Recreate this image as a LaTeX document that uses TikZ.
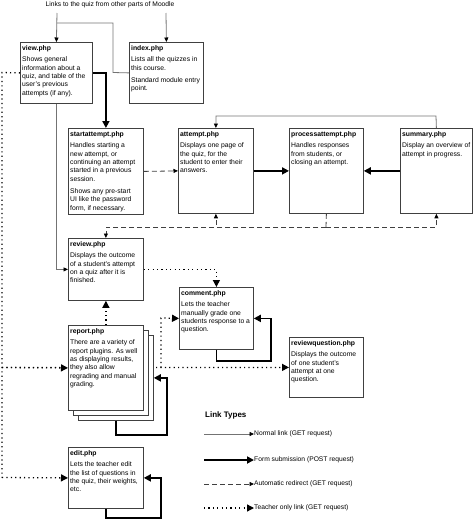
\documentclass[tikz,border=0pt]{standalone}
\usepackage{fontspec}
\setmainfont{Liberation Sans}
\usetikzlibrary{arrows.meta}
\pgfdeclarelayer{background}
\pgfsetlayers{background,main}
\begin{document}
\begin{tikzpicture}[x=1pt,y=-1pt,
 box/.style={draw=black!75,line width=0.8pt,fill=white,rectangle,anchor=north west,inner sep=0},
 txt/.style={anchor=north west,align=left,inner sep=0,font=\fontsize{6.8}{8.3}\selectfont},
 lgd/.style={anchor=west,inner sep=0,font=\fontsize{6.7}{8}\selectfont},
 normalline/.style={draw=black!55,line width=0.8pt},
 normal/.style={normalline,-{Triangle[length=4.5pt,width=4pt,color=black]}},
 post/.style={line width=1.8pt,-{Triangle[length=7pt,width=7pt]}},
 redirectline/.style={draw=black!75,line width=0.8pt,dash pattern=on 5pt off 3pt},
 redirect/.style={redirectline,-{Triangle[length=4.5pt,width=4pt,color=black]}},
 teacherline/.style={line width=1.3pt,dash pattern=on 1.2pt off 3.2pt},
 teacher/.style={teacherline,-{Triangle[length=7pt,width=7pt]}},
]
\useasboundingbox (0,0) rectangle (474,522);

% title
\node[font=\fontsize{6.7}{8}\selectfont,inner sep=0] (title) at (110,5) {Links to the quiz from other parts of Moodle};

% boxes
\node[box,minimum width=72pt,minimum height=61pt] (view) at (20,42) {};
\node[txt] (viewt) at ([shift={(2,3)}]view.north west) {\textbf{view.php}\\[3.5pt]Shows general\\information about a\\quiz, and table of the\\user's previous\\attempts (if any).};

\node[box,minimum width=74pt,minimum height=61pt] (index) at (129,42) {};
\node[txt] (indext) at ([shift={(2,3)}]index.north west) {\textbf{index.php}\\[3.5pt]Lists all the quizzes in\\this course.\\[4pt]Standard module entry\\point.};

\node[box,minimum width=75pt,minimum height=86pt] (start) at (68,128) {};
\node[txt] (startt) at ([shift={(2,3)}]start.north west) {\textbf{startattempt.php}\\[3.5pt]Handles starting a\\new attempt, or\\continuing an attempt\\started in a previous\\session.\\[4pt]Shows any pre-start\\UI like the password\\form, if necessary.};

\node[box,minimum width=75pt,minimum height=85pt] (attempt) at (178,128) {};
\node[txt] (attemptt) at ([shift={(2,3)}]attempt.north west) {\textbf{attempt.php}\\[3.5pt]Displays one page of\\the quiz, for the\\student to enter their\\answers.};

\node[box,minimum width=74pt,minimum height=85pt] (process) at (289,128) {};
\node[txt] (processt) at ([shift={(2,3)}]process.north west) {\textbf{processattempt.php}\\[3.5pt]Handles responses\\from students, or\\closing an attempt.};

\node[box,minimum width=72pt,minimum height=85pt] (summary) at (400,128) {};
\node[txt] (summaryt) at ([shift={(2,3)}]summary.north west) {\textbf{summary.php}\\[3.5pt]Display an overview of\\attempt in progress.};

\node[box,minimum width=75pt,minimum height=62pt] (review) at (68,238) {};
\node[txt] (reviewt) at ([shift={(2,3)}]review.north west) {\textbf{review.php}\\[3.5pt]Displays the outcome\\of a student's attempt\\on a quiz after it is\\finished.};

\node[box,minimum width=74pt,minimum height=62pt] (comment) at (179,287) {};
\node[txt] (commentt) at ([shift={(2,3)}]comment.north west) {\textbf{comment.php}\\[3.5pt]Lets the teacher\\manually grade one\\students response to a\\question.};

\node[box,minimum width=74pt,minimum height=60pt] (rq) at (289,337) {};
\node[txt] (rqt) at ([shift={(2,3)}]rq.north west) {\textbf{reviewquestion.php}\\[3.5pt]Displays the outcome\\of one student's\\attempt at one\\question.};

\node[box,minimum width=75pt,minimum height=85pt] (report3) at (78,335) {};
\node[box,minimum width=75pt,minimum height=85pt] (report2) at (73,330) {};
\node[box,minimum width=75pt,minimum height=85pt] (report) at (68,325) {};
\node[txt] (reportt) at ([shift={(2,3)}]report.north west) {\textbf{report.php}\\[3.5pt]There are a variety of\\report plugins. As well\\as displaying results,\\they also allow\\regrading and manual\\grading.};

\node[box,minimum width=75pt,minimum height=61pt] (edit) at (68,447) {};
\node[txt] (editt) at ([shift={(2,3)}]edit.north west) {\textbf{edit.php}\\[3.5pt]Lets the teacher edit\\the list of questions in\\the quiz, their weights,\\etc.};

% title links
\coordinate (ta) at (57,13);
\coordinate (tb) at (166,13);
\draw[normal] (ta) -- (view.north);
\draw[normal] (tb) -- (index.north);
\coordinate (ij1) at (113,72.5);
\coordinate (ij2) at (113,23);
\coordinate (ij3) at (57,23);
\draw[normalline] (index.west) -- (ij1) -- (ij2) -- (ij3);

% view -> startattempt (post)
\draw[post] (view.east) -| (start.north);
% view -> review
\draw[normal] (view.south) |- (review.west);
% start -> attempt
\draw[redirect] (start.east) -- (attempt.west);
% attempt -> process, summary -> process
\draw[post] (attempt.east) -- (process.west);
\draw[post] (summary.west) -- (process.east);
% summary -> attempt
\coordinate (sa) at (436,116);
\draw[normal] (summary.north) -- (sa) -| (attempt.north);
% process redirects
\coordinate (dj) at (326,227);
\draw[redirectline] (process.south) -- (dj);
\draw[redirect] (dj) -| (review.north);
\draw[redirect] (dj) -| (attempt.south);
\draw[redirect] (dj) -| (summary.south);

% review -> comment
\draw[teacher] (review.east) -| (comment.north);
% comment self loop
\coordinate (cl) at (271,361);
\draw[post] (comment.south) |- (cl) |- (comment.east);
% report -> review
\draw[teacher] (report.north) -- (review.south);
% report self loop
\coordinate (rl) at (167,435);
\draw[post] (report3.south) |- (rl) |- (report3.east);
% edit self loop
\coordinate (el) at (161,518);
\draw[post] (edit.south) |- (el) |- (edit.east);

% teacher-only links from view
\coordinate (d1) at (2,72.5);
\coordinate (d2) at (2,367.5);
\coordinate (d3) at (2,477.5);
\coordinate (d4) at (161,367.5);
\coordinate (d5) at (161,318);
\draw[teacherline] (view.west) -- (d1) -- (d3);
\draw[teacher] (d3) -- (edit.west);
\draw[teacher] (d2) -- (report.west);
\begin{pgfonlayer}{background}
\draw[teacher] (d2) -- (rq.west);
\end{pgfonlayer}
\draw[teacher] (d4) -- (d5) -- (comment.west);

% legend
\node[anchor=west,inner sep=0,font=\bfseries\fontsize{8}{9}\selectfont] (lt) at (205,415) {Link Types};
\node[lgd] (l1) at (254,434) {Normal link (GET request)};
\node[lgd] (l2) at (254,460) {Form submission (POST request)};
\node[lgd] (l3) at (254,484) {Automatic redirect (GET request)};
\node[lgd] (l4) at (254,508) {Teacher only link (GET request)};
\coordinate (s1) at (204,434);
\coordinate (s2) at (204,460);
\coordinate (s3) at (204,484);
\coordinate (s4) at (204,508);
\draw[normal] (s1) -- (l1.west);
\draw[post] (s2) -- (l2.west);
\draw[redirect] (s3) -- (l3.west);
\draw[teacher] (s4) -- (l4.west);
\end{tikzpicture}
\end{document}
